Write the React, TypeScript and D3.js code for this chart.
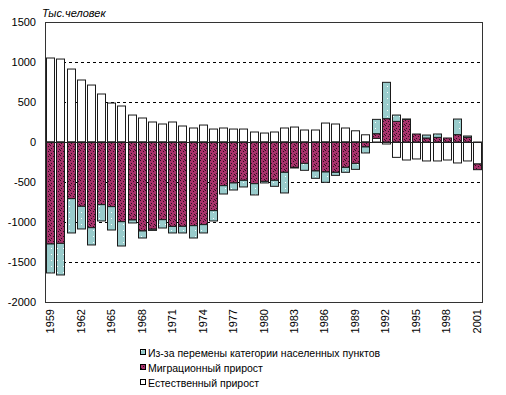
import React from "react";
import * as d3 from "d3";

// years on the x axis
const years = [
  1959, 1960, 1961, 1962, 1963, 1964, 1965, 1966, 1967, 1968, 1969, 1970, 1971, 1972, 1973,
  1974, 1975, 1976, 1977, 1978, 1979, 1980, 1981, 1982, 1983, 1984, 1985, 1986, 1987, 1988,
  1989, 1990, 1991, 1992, 1993, 1994, 1995, 1996, 1997, 1998, 1999, 2000, 2001,
];

// thousand people
const natural = [
  1050, 1037, 912, 775, 712, 600, 487, 450, 337, 300, 250, 225, 250, 200, 175,
  212, 162, 175, 162, 162, 125, 112, 125, 175, 187, 150, 150, 237, 225, 175,
  140, 90, 46, -25, -192, -225, -212, -237, -237, -225, -262, -237, -275,
];
const migration = [
  -1275, -1267, -708, -804, -1071, -783, -808, -996, -975, -1112, -1090, -971, -1055, -1054, -1046,
  -1033, -858, -546, -512, -479, -521, -492, -479, -379, -317, -267, -362, -375, -379, -317,
  -267, -62, 58, 292, 258, 283, 100, 50, 58, 50, 92, 58, -71,
];
const category = [
  -362, -395, -429, -283, -216, -204, -292, -304, -37, -88, -15, -104, -82, -83, -154,
  -104, -129, -104, -88, -83, -141, -20, -75, -258, -8, -87, -92, -129, -38, -62,
  -75, -75, 179, 454, 79, 4, 0, 37, 42, 0, 195, 17, 0,
];

const yTicks = [1500, 1000, 500, 0, -500, -1000, -1500, -2000];
const yearLabels = [1959, 1962, 1965, 1968, 1971, 1974, 1977, 1980, 1983, 1986, 1989, 1992, 1995, 1998, 2001];

const seriesKeys = ["natural", "migration", "category"];
const legendItems = [
  { key: "category", label: "Из-за перемены категории населенных пунктов" },
  { key: "migration", label: "Миграционный прирост" },
  { key: "natural", label: "Естественный прирост" },
];

const fills: Record<string, string> = {
  natural: "#ffffff",
  migration: "url(#patMig)",
  category: "url(#patCat)",
};

const W = 506;
const H = 395;
const left = 45;
const right = 482;
const top = 22;
const bottom = 302;
const font = "'Liberation Sans', Arial, sans-serif";

export default function App() {
  const rows = years.map((y, i) => ({
    year: String(y),
    natural: natural[i],
    migration: migration[i],
    category: category[i],
  }));

  const stacked = d3.stack<any>().keys(seriesKeys).offset(d3.stackOffsetDiverging)(rows);

  const x = d3
    .scaleBand()
    .domain(years.map(String))
    .range([left, right])
    .paddingInner(0.26)
    .paddingOuter(0.13);

  const y = d3.scaleLinear().domain([-2000, 1500]).range([bottom, top]);

  return (
    <svg
      width={W}
      height={H}
      style={{ position: "absolute", left: 0, top: 0, background: "#fff" }}
      fontFamily={font}
    >
      <defs>
        <pattern id="patMig" width="5" height="5" patternUnits="userSpaceOnUse">
          <rect width="5" height="5" fill="#a8336c" />
          <rect x="0" y="0" width="1" height="1" fill="#2e1020" />
          <rect x="3" y="1" width="1" height="1" fill="#2e1020" />
          <rect x="1" y="3" width="1" height="1" fill="#2e1020" />
          <rect x="4" y="4" width="1" height="1" fill="#2e1020" />
        </pattern>
        <pattern id="patCat" width="6" height="6" patternUnits="userSpaceOnUse">
          <rect width="6" height="6" fill="#99cccc" />
          <rect x="3" y="2" width="1" height="1" fill="#ffffff" />
        </pattern>
      </defs>

      {/* grid lines */}
      {yTicks
        .filter((t) => t !== 0 && t !== 1500 && t !== -2000)
        .map((t) => (
          <line
            key={t}
            x1={left}
            x2={right}
            y1={Math.round(y(t)) + 0.5}
            y2={Math.round(y(t)) + 0.5}
            stroke="#000"
            strokeDasharray="3,3"
            shapeRendering="crispEdges"
          />
        ))}

      {/* bars */}
      {stacked.map((s) => (
        <g key={s.key}>
          {s.map((d, i) => {
            const y0 = y(d[0]);
            const y1 = y(d[1]);
            const h = Math.abs(y1 - y0);
            if (h < 0.3) return null;
            return (
              <rect
                key={i}
                x={Math.round(x(String(years[i]))!) + 0.5}
                y={Math.min(y0, y1)}
                width={Math.round(x.bandwidth())}
                height={h}
                fill={fills[s.key]}
                stroke="#1a1a1a"
                strokeWidth={1}
              />
            );
          })}
        </g>
      ))}

      {/* zero line */}
      <line x1={left} x2={right} y1={Math.round(y(0)) + 0.5} y2={Math.round(y(0)) + 0.5} stroke="#222" shapeRendering="crispEdges" />

      {/* frame */}
      <rect x={left + 0.5} y={top + 0.5} width={right - left} height={bottom - top} fill="none" stroke="#333" shapeRendering="crispEdges" />

      {/* y axis labels */}
      {yTicks.map((t) => (
        <text key={t} x={36} y={y(t) + 4} textAnchor="end" fontSize={11} fill="#000">
          {t}
        </text>
      ))}
      <text x={42} y={17} fontSize={11} fontStyle="italic" fill="#000">
        Тыс.человек
      </text>

      {/* x axis labels */}
      {yearLabels.map((yr) => {
        const cx = x(String(yr))! + x.bandwidth() / 2 + 4;
        return (
          <text
            key={yr}
            transform={`translate(${cx},${309}) rotate(-90)`}
            textAnchor="end"
            fontSize={11}
            fill="#000"
          >
            {yr}
          </text>
        );
      })}

      {/* legend */}
      {legendItems.map((it, i) => {
        const ly = 353 + i * 15;
        return (
          <g key={it.key}>
            <rect x={140.5} y={ly - 3.5} width={5} height={5} fill={fills[it.key]} stroke="#000" />
            <text x={148} y={ly + 4} fontSize={10.5} fill="#000">
              {it.label}
            </text>
          </g>
        );
      })}
    </svg>
  );
}
